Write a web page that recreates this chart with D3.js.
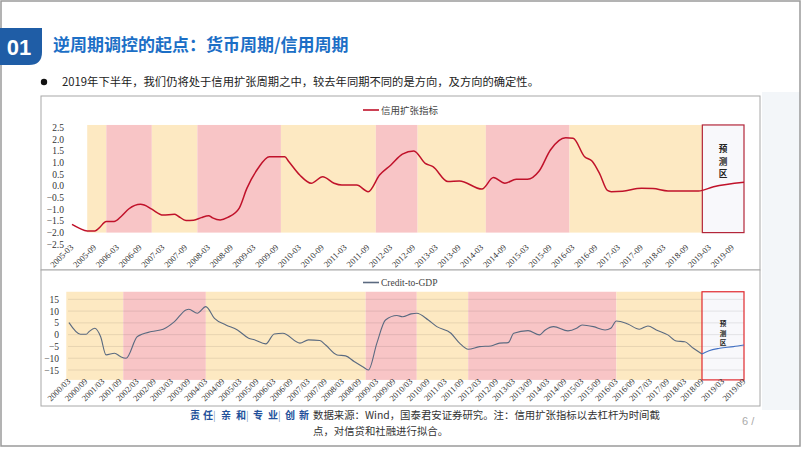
<!DOCTYPE html>
<html>
<head>
<meta charset="utf-8">
<script src="https://cdn.jsdelivr.net/npm/d3@7"></script>
<style>
  body { margin: 0; background: #fff; }
  svg { display: block; }
</style>
</head>
<body>
<div id="chart"></div>
<script>
// ---- data ----
// credit expansion index (top panel), monthly sample points
var creditDates = ["2005-03","2005-05","2005-07","2005-09","2005-10","2005-12","2006-02","2006-04","2006-06","2006-09",
  "2006-10","2006-12","2007-03","2007-06","2007-07","2007-09","2007-11","2008-01","2008-03","2008-04",
  "2008-06","2008-08","2008-11","2009-01","2009-04","2009-07","2009-11","2009-12","2010-03","2010-06",
  "2010-09","2010-12","2011-02","2011-06","2011-09","2011-12","2012-03","2012-06","2012-09","2012-12",
  "2013-02","2013-06","2013-09","2014-03","2014-06","2014-09","2014-12","2015-03","2015-06","2015-09",
  "2016-01","2016-03","2016-06","2016-08","2016-10","2016-12","2017-01","2017-04","2017-09","2017-12",
  "2018-04","2018-12","2019-04","2019-12"];
var creditValues = [-1.65,-1.82,-1.93,-1.93,-1.82,-1.53,-1.53,-1.3,-0.98,-0.79,
  -0.82,-1.0,-1.25,-1.22,-1.3,-1.48,-1.47,-1.36,-1.28,-1.37,
  -1.46,-1.35,-0.95,-0.11,0.75,1.24,1.24,1.05,0.46,0.11,
  0.39,0.11,0.03,0.03,-0.25,0.46,0.89,1.35,1.49,0.96,
  0.82,0.18,0.21,-0.14,0.35,0.11,0.28,0.28,0.62,1.53,
  2.05,2.03,1.24,1.05,0.5,-0.2,-0.25,-0.23,-0.11,-0.12,
  -0.22,-0.22,-0.04,0.15];
var creditYTicks = [-2.5,-2.0,-1.5,-1.0,-0.5,0.0,0.5,1.0,1.5,2.0,2.5];
var creditXTicks = ["2005-03","2005-09","2006-03","2006-09","2007-03","2007-09","2008-03","2008-09","2009-03","2009-09",
  "2010-03","2010-09","2011-03","2011-09","2012-03","2012-09","2013-03","2013-09","2014-03","2014-09",
  "2015-03","2015-09","2016-03","2016-09","2017-03","2017-09","2018-03","2018-09","2019-03","2019-09"];
// shaded cycles: [start, end, type]
var creditBands = [["2005-07","2005-12","y"],["2005-12","2006-12","p"],["2006-12","2007-12","y"],["2007-12","2009-10","p"],
  ["2009-10","2011-11","y"],["2011-11","2012-10","p"],["2012-10","2014-04","y"],["2014-04","2016-02","p"],["2016-02","2019-01","y"]];
var creditForecast = ["2019-01","2019-12"];

// credit-to-GDP gap (bottom panel)
var gapDates = ["2000-03","2000-07","2000-09","2000-10","2000-12","2001-02","2001-04","2001-07","2001-09","2001-11",
  "2002-03","2002-08","2002-12","2003-04","2003-08","2003-09","2003-12","2004-03","2004-06","2004-10",
  "2005-02","2005-06","2005-08","2005-12","2006-03","2006-06","2006-12","2007-03","2007-07","2007-09",
  "2008-01","2008-04","2008-07","2008-10","2008-12","2009-03","2009-06","2009-10","2009-12","2010-03",
  "2010-05","2010-09","2010-12","2011-05","2011-08","2011-11","2012-03","2012-07","2012-10","2013-01",
  "2013-03","2013-08","2013-12","2014-02","2014-05","2014-10","2015-01","2015-03","2015-07","2015-11",
  "2016-01","2016-03","2016-07","2016-11","2017-02","2017-05","2017-09","2017-12","2018-03","2018-06","2018-09"];
var gapValues = [5.1,0.2,0.2,1.3,2.7,-0.8,-8.6,-7.9,-9.3,-10,
  -0.8,1.3,2.3,5.5,10.5,10.8,9.1,11.9,6.9,4.1,
  2.0,-1.5,-2.2,-3.9,0.3,0.6,-3.6,-2.2,-2.5,-4.4,
  -8.6,-9.0,-11.4,-13.6,-15,-3.6,6.2,8.1,7.6,8.8,
  9.1,6.2,3.4,0.6,-3.6,-6.2,-5.1,-4.8,-3.6,-3.4,
  0.6,1.7,-0.1,2.0,3.4,1.6,2.7,4.1,3.4,2.0,
  2.7,5.8,4.5,2.3,3.7,2.0,-0.1,-2.7,-3.0,-5.8,-8.2];
var gapFcDates = ["2018-09","2018-11","2019-02","2019-06","2019-09"];
var gapFcValues = [-8.2,-6.8,-5.8,-5.1,-4.4];
var gapYTicks = [-15,-10,-5,0,5,10,15];
var gapXTicks = ["2000-03","2000-09","2001-03","2001-09","2002-03","2002-09","2003-03","2003-09","2004-03","2004-09",
  "2005-03","2005-09","2006-03","2006-09","2007-03","2007-09","2008-03","2008-09","2009-03","2009-09",
  "2010-03","2010-09","2011-03","2011-09","2012-03","2012-09","2013-03","2013-09","2014-03","2014-09",
  "2015-03","2015-09","2016-03","2016-09","2017-03","2017-09","2018-03","2018-09","2019-03","2019-09"];
var gapBands = [["2000-02","2001-10","y"],["2001-10","2004-03","p"],["2004-03","2008-11","y"],["2008-11","2010-05","p"],
  ["2010-05","2011-11","y"],["2011-11","2016-03","p"],["2016-03","2018-09","y"]];
var gapForecast = ["2018-09","2019-09"];

// ---- drawing ----
var W = 802, H = 451;
var parse = d3.utcParse("%Y-%m");
var bandColor = {y: "#fde9c2", p: "#f8c5c6"};
var cjk = "'Noto Sans CJK SC', 'Noto Sans', sans-serif";
var serif = "'Liberation Serif', 'DejaVu Serif', serif";

var svg = d3.select("#chart").append("svg")
    .attr("width", W)
    .attr("height", H);

// slide background bits
svg.append("rect").attr("x", 762).attr("y", 92).attr("width", 38).attr("height", 318).attr("fill", "#f3f6f9");
svg.append("rect").attr("x", 1).attr("y", 1).attr("width", 799).attr("height", 445)
    .attr("fill", "none").attr("stroke", "#9a9a9a").attr("stroke-width", 1.5);

// header
svg.append("path").attr("d", "M0,28H42V52Q42,65 29,65H0Z").attr("fill", "#1f5da6");
svg.append("text").attr("x", 19).attr("y", 55).attr("text-anchor", "middle")
    .attr("fill", "#fff").style("font", "bold 22px 'Liberation Sans', Arial, sans-serif").text("01");
svg.append("text").attr("x", 53).attr("y", 51).attr("fill", "#1c6fc6")
    .style("font", "bold 17px " + cjk).text("逆周期调控的起点：货币周期/信用周期");

svg.append("circle").attr("cx", 44).attr("cy", 82).attr("r", 3.2).attr("fill", "#111");
svg.append("text").attr("x", 62).attr("y", 86).attr("fill", "#222")
    .style("font", "11.3px " + cjk)
    .text("2019年下半年，我们仍将处于信用扩张周期之中，较去年同期不同的是方向，及方向的确定性。");

// chart frames
svg.append("rect").attr("x", 41).attr("y", 96).attr("width", 719).attr("height", 174)
    .attr("fill", "#fff").attr("stroke", "#a8a8a8");
svg.append("rect").attr("x", 41).attr("y", 270).attr("width", 719).attr("height", 136)
    .attr("fill", "#fff").attr("stroke", "#a8a8a8");

function panel(opt) {
  var g = svg.append("g");
  var x = opt.x, y = opt.y;
  var top = y(opt.bandTop), bot = y(opt.bandBottom);

  g.selectAll("rect.band").data(opt.bands).join("rect")
      .attr("class", "band")
      .attr("x", d => x(parse(d[0])))
      .attr("width", d => x(parse(d[1])) - x(parse(d[0])))
      .attr("y", top).attr("height", bot - top)
      .attr("fill", d => bandColor[d[2]]);

  var fx0 = x(parse(opt.forecast[0])), fx1 = x(parse(opt.forecast[1]));
  g.append("rect").attr("x", fx0).attr("y", top).attr("width", fx1 - fx0).attr("height", bot - top)
      .attr("fill", "#f8f8fb");

  if (opt.grid) {
    g.selectAll("line.grid").data(opt.yTicks).join("line")
        .attr("class", "grid")
        .attr("x1", x.range()[0] - 1).attr("x2", x.range()[x.range().length - 1])
        .attr("y1", d => y(d)).attr("y2", d => y(d))
        .attr("stroke", "#000").attr("stroke-opacity", 0.09);
  }

  g.append("rect").attr("x", fx0).attr("y", top).attr("width", fx1 - fx0).attr("height", bot - top)
      .attr("fill", "none").attr("stroke", opt.boxStroke).attr("stroke-width", 1.2);

  ["预", "测", "区"].forEach(function(c, i) {
    g.append("text").attr("x", (fx0 + fx1) / 2).attr("y", opt.fcTextY + i * opt.fcTextStep)
        .attr("text-anchor", "middle").attr("fill", "#222")
        .style("font", "bold " + opt.fcTextSize + "px " + cjk).text(c);
  });

  var line = d3.line().curve(d3.curveMonotoneX)
      .x(d => x(parse(d[0]))).y(d => y(d[1]));
  opt.series.forEach(function(s) {
    g.append("path").datum(d3.zip(s.dates, s.values))
        .attr("fill", "none").attr("stroke", s.color).attr("stroke-width", s.width)
        .attr("d", line);
  });

  // y axis
  var ya = g.append("g").attr("transform", `translate(${opt.yAxisX},0)`)
      .call(d3.axisLeft(y).tickValues(opt.yTicks).tickFormat(opt.yFormat).tickSize(0).tickPadding(0));
  ya.select(".domain").remove();
  ya.selectAll("text").attr("fill", "#333").style("font", "9.5px " + serif);

  // x axis with slanted labels
  var xa = g.append("g").attr("transform", `translate(0,${opt.xAxisY})`)
      .call(d3.axisBottom(x).tickValues(opt.xTicks.map(parse)).tickFormat(d3.utcFormat(opt.xFormat)).tickSize(0));
  xa.select(".domain").remove();
  xa.selectAll("text")
      .attr("text-anchor", "end").attr("x", -1).attr("y", 0).attr("dy", "0.35em")
      .attr("transform", "rotate(-45)")
      .attr("fill", "#333").style("font", "8.6px " + serif);

  // legend
  g.append("line").attr("x1", opt.legendX).attr("x2", opt.legendX + 16)
      .attr("y1", opt.legendY).attr("y2", opt.legendY)
      .attr("stroke", opt.series[0].color).attr("stroke-width", 1.6);
  g.append("text").attr("x", opt.legendX + 18).attr("y", opt.legendY + 3.5)
      .attr("fill", "#444").style("font", opt.legendFont).text(opt.legend);
}

// top panel: credit expansion index
panel({
  x: d3.scaleUtc().domain([parse("2005-03"), parse("2019-12")]).range([72, 744]),
  y: d3.scaleLinear().domain([-2.5, 2.5]).range([244.3, 127.3]),
  bandTop: 2.6, bandBottom: -2.0,
  bands: creditBands, forecast: creditForecast,
  grid: false, boxStroke: "#b3263a",
  fcTextY: 152, fcTextStep: 12.5, fcTextSize: 8.6,
  series: [{dates: creditDates, values: creditValues, color: "#c0122a", width: 1.5}],
  yTicks: creditYTicks, yFormat: d3.format(".1f"), yAxisX: 64,
  xTicks: creditXTicks, xFormat: "%Y-%m", xAxisY: 245,
  legend: "信用扩张指标", legendX: 363, legendY: 110, legendFont: "9.5px " + cjk
});

// bottom panel: credit-to-GDP
panel({
  x: d3.scaleUtc().domain([parse("2000-03"), parse("2018-09"), parse("2019-09")]).range([69, 702, 744]),
  y: d3.scaleLinear().domain([-15, 15]).range([370, 299.3]),
  bandTop: 18.2, bandBottom: -19.2,
  bands: gapBands, forecast: gapForecast,
  grid: true, boxStroke: "#e0282e",
  fcTextY: 326, fcTextStep: 9.6, fcTextSize: 6.6,
  series: [{dates: gapDates, values: gapValues, color: "#5a6a80", width: 1.1},
           {dates: gapFcDates, values: gapFcValues, color: "#4472c4", width: 1.1}],
  yTicks: gapYTicks, yFormat: d3.format("d"), yAxisX: 59,
  xTicks: gapXTicks, xFormat: "%Y/%m", xAxisY: 379,
  legend: "Credit-to-GDP", legendX: 363, legendY: 282.5, legendFont: "9.5px " + serif
});

// footer
var motto = [["责", 190], ["任", 203], ["|", 213], ["亲", 221], ["和", 236], ["|", 246], ["专", 253], ["业", 268], ["|", 278], ["创", 285], ["新", 299]];
motto.forEach(function(m) {
  svg.append("text").attr("x", m[1]).attr("y", 419)
      .attr("fill", m[0] === "|" ? "#8aa0c0" : "#23509a")
      .style("font", (m[0] === "|" ? "" : "bold ") + "10px " + cjk).text(m[0]);
});
svg.append("text").attr("x", 313).attr("y", 419).attr("fill", "#333")
    .style("font", "10.4px " + cjk).text("数据来源：Wind，国泰君安证券研究。注：信用扩张指标以去杠杆为时间截");
svg.append("text").attr("x", 313).attr("y", 435).attr("fill", "#333")
    .style("font", "10.4px " + cjk).text("点，对信贷和社融进行拟合。");
svg.append("text").attr("x", 742).attr("y", 425).attr("fill", "#aaa")
    .style("font", "11px 'Liberation Sans', Arial, sans-serif").text("6 /");
</script>
</body>
</html>
